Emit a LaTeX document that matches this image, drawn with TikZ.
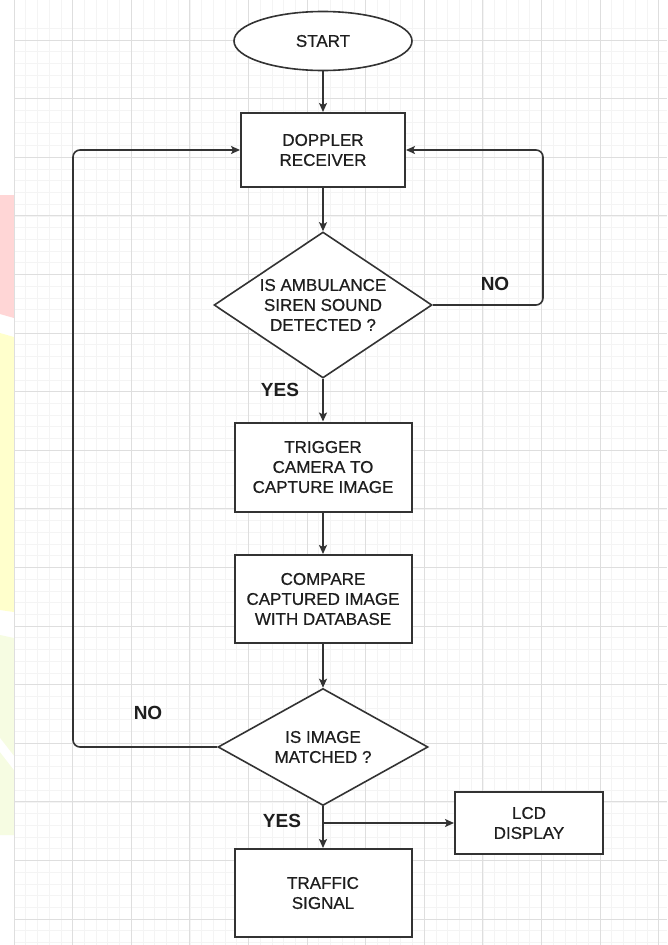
\documentclass[tikz,border=0pt]{standalone}
\usepackage{fontspec}
\setmainfont{Liberation Sans}
\newfontfamily\boxfont[FakeBold=0.6]{Liberation Sans}
\usetikzlibrary{shapes.geometric,arrows.meta}
\definecolor{ln}{HTML}{333333}
\definecolor{txt}{HTML}{1E1E1E}
\definecolor{gmaj}{HTML}{DEDEDE}
\definecolor{gmin}{HTML}{F4F4F4}
\definecolor{wpink}{HTML}{FFD6D6}
\definecolor{wyel}{HTML}{FFFFCC}
\definecolor{wgreen}{HTML}{F6FCE2}
\tikzset{
  boxtext/.style={font=\boxfont\fontsize{17}{20}\selectfont, text=txt, align=center},
  procbox/.style={boxtext, draw=ln, line width=2pt, fill=white, rectangle, inner sep=0pt},
  decbox/.style={draw=ln, line width=1.6pt, fill=white, diamond, inner sep=0pt},
  termbox/.style={boxtext, draw=ln, line width=1.6pt, fill=white, ellipse, inner sep=0pt},
  flow/.style={draw=ln, line width=1.6pt, -{Stealth[length=9pt,width=8pt,inset=2pt]}},
  yn/.style={font=\fontsize{19}{22}\selectfont\bfseries, text=txt, inner sep=0pt}
}
\begin{document}
\begin{tikzpicture}[x=1pt,y=-1pt]
\useasboundingbox (0,0) rectangle (667,945);
\fill[white] (0,0) rectangle (667,945);
% watermark strip
\fill[wpink] (0,195) -- (14,195) -- (14,318) -- (0,314) -- cycle;
\fill[wyel] (0,333) -- (14,337) -- (14,612) -- (0,610) -- cycle;
\fill[wgreen] (0,635) -- (14,638) -- (14,835) -- (0,835) -- cycle;
\fill[white] (0,738) -- (14,756) -- (14,770) -- (0,752) -- cycle;
% grid
\foreach \i in {0,...,55} {
  \draw[gmin, line width=0.6pt] ({14+11.72*\i},0) -- ({14+11.72*\i},945);
}
\foreach \j in {-1,...,80} {
  \draw[gmin, line width=0.6pt] (14,{40+11.72*\j}) -- (667,{40+11.72*\j});
}
\foreach \i in {0,...,11} {
  \draw[gmaj, line width=0.9pt] ({14+58.6*\i},0) -- ({14+58.6*\i},945);
}
\foreach \j in {0,...,15} {
  \draw[gmaj, line width=0.9pt] (14,{40+58.6*\j}) -- (667,{40+58.6*\j});
}
% nodes
\node[termbox, minimum width=178pt, minimum height=59pt] (start) at (323,41) {START};
\node[procbox, minimum width=164pt, minimum height=74pt] (dop) at (323,150) {DOPPLER\\RECEIVER};
\node[decbox, minimum width=218pt, minimum height=146pt,
      label={[boxtext]center:IS AMBULANCE\\SIREN SOUND\\DETECTED ?}] (d1) at (323,305) {};
\node[procbox, minimum width=177pt, minimum height=89pt] (trig) at (323,467) {TRIGGER\\CAMERA TO\\CAPTURE IMAGE};
\node[procbox, minimum width=177pt, minimum height=88pt] (comp) at (323,599) {COMPARE\\CAPTURED IMAGE\\WITH DATABASE};
\node[decbox, minimum width=210pt, minimum height=117pt,
      label={[boxtext]center:IS IMAGE\\MATCHED ?}] (d2) at (323,747) {};
\node[procbox, minimum width=148pt, minimum height=62pt] (lcd) at (529,823) {LCD\\DISPLAY};
\node[procbox, minimum width=177pt, minimum height=88pt] (traf) at (323,893) {TRAFFIC\\SIGNAL};
% labels
\node[yn] (no1) at (495,284) {NO};
\node[yn] (yes1) at (280,390) {YES};
\node[yn] (no2) at (148,713) {NO};
\node[yn] (yes2) at (282,821) {YES};
% connectors
\coordinate (r1) at (543,150);
\coordinate (l1) at (73,150);
\coordinate (br) at (323,823);
\draw[flow] (start) -- (dop);
\draw[flow] (dop) -- (d1);
\draw[flow] (d1.south) -- (trig.north);
\draw[flow] (trig) -- (comp);
\draw[flow] (comp.south) -- (d2.north);
\draw[flow] (d2.south) -- (traf.north);
\draw[flow, rounded corners=7pt] (d1.east) -| (r1) -- (dop.east);
\draw[flow, rounded corners=7pt] (d2.west) -| (l1) -- (dop.west);
\draw[flow] (br) -- (lcd.west);
\end{tikzpicture}
\end{document}
